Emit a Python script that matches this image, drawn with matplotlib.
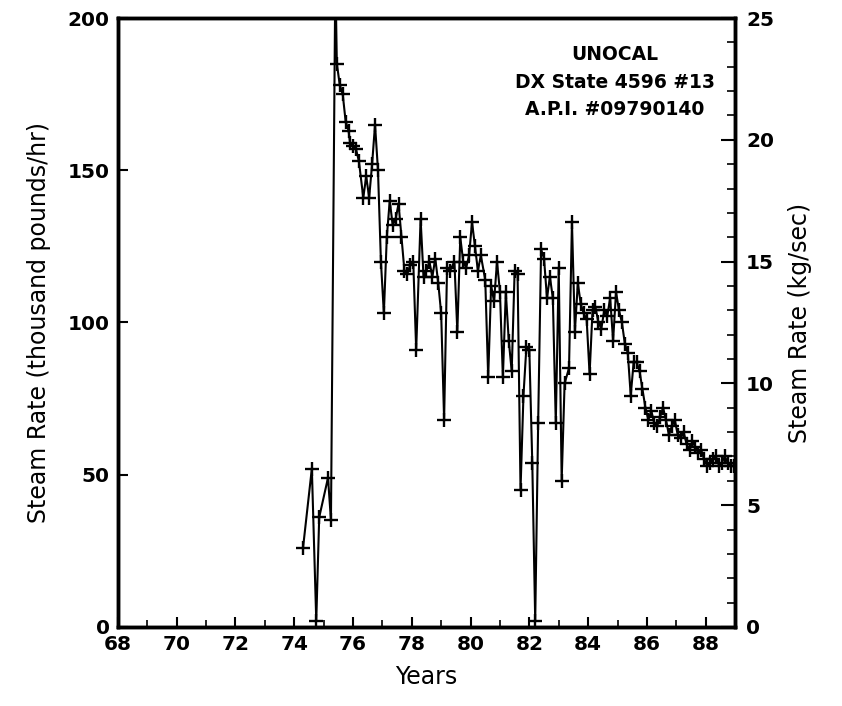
import matplotlib
matplotlib.use("Agg")
import matplotlib.pyplot as plt
from matplotlib.ticker import MultipleLocator

years = [74.3, 74.6, 74.75, 74.85, 75.15, 75.25, 75.4, 75.45, 75.55, 75.65, 75.75, 75.85, 75.9,
         76.0, 76.1, 76.2, 76.35, 76.45, 76.55, 76.65, 76.75, 76.85, 76.95,
         77.05, 77.15, 77.25, 77.35, 77.45, 77.55, 77.65, 77.75, 77.85, 77.95,
         78.05, 78.15, 78.3, 78.4, 78.5, 78.6, 78.7, 78.8, 78.9,
         79.0, 79.1, 79.2, 79.3, 79.45, 79.55, 79.65, 79.75, 79.85, 79.95,
         80.05, 80.15, 80.25, 80.35, 80.5, 80.6, 80.7, 80.8, 80.9,
         81.0, 81.1, 81.2, 81.3, 81.4, 81.5, 81.6, 81.7, 81.8, 81.9,
         82.0, 82.1, 82.2, 82.3, 82.4, 82.5, 82.6, 82.7, 82.8, 82.9,
         83.0, 83.1, 83.2, 83.35, 83.45, 83.55, 83.65, 83.75, 83.85, 83.95,
         84.05, 84.15, 84.25, 84.35, 84.45, 84.55, 84.65, 84.75, 84.85, 84.95,
         85.05, 85.15, 85.25, 85.35, 85.45, 85.55, 85.65, 85.75, 85.85, 85.95,
         86.05, 86.15, 86.25, 86.35, 86.45, 86.55, 86.65, 86.75, 86.85, 86.95,
         87.05, 87.15, 87.25, 87.35, 87.45, 87.55, 87.65, 87.75, 87.85, 87.95,
         88.05, 88.15, 88.25, 88.35, 88.45, 88.55, 88.65, 88.75, 88.85, 88.95]
steam = [26, 52, 2, 36, 49, 35, 215, 185, 178, 175, 166, 163, 159,
         158, 157, 153, 141, 148, 141, 152, 165, 150, 120,
         103, 128, 140, 132, 134, 139, 128, 117, 116, 119,
         120, 91, 134, 115, 117, 120, 115, 121, 113,
         103, 68, 118, 117, 120, 97, 128, 120, 118, 122,
         133, 125, 117, 122, 114, 82, 112, 107, 120,
         110, 82, 110, 94, 84, 117, 116, 45, 76, 92,
         91, 54, 2, 67, 124, 121, 108, 115, 108, 67,
         118, 48, 80, 85, 133, 97, 113, 106, 103, 101,
         83, 104, 105, 100, 98, 104, 102, 108, 94, 110,
         104, 100, 93, 90, 76, 87, 87, 84, 78, 72,
         68, 71, 67, 66, 69, 72, 68, 63, 66, 68,
         63, 62, 64, 60, 58, 61, 59, 57, 58, 55,
         53, 54, 55, 56, 53, 54, 56, 54, 53, 53]

xticks = [68, 70, 72, 74, 76, 78, 80, 82, 84, 86, 88]
yticks = [0, 50, 100, 150, 200]
kg_ticks = [0, 5, 10, 15, 20, 25]
title_lines = ["UNOCAL", "DX State 4596 #13", "A.P.I. #09790140"]

plt.rcParams['font.family'] = ['DejaVu Sans']

fig = plt.figure(figsize=(8.42, 7.06), dpi=100)
ax = fig.add_axes([0.140, 0.112, 0.733, 0.8625])
ax.plot(years, steam, color='black', lw=1.5, marker='+', ms=10, mew=1.7, clip_on=True)
ax.set_xlim(68, 89)
ax.set_ylim(0, 200)
ax.set_xticks(xticks)
ax.set_yticks(yticks)
ax.xaxis.set_minor_locator(MultipleLocator(1))
ax.tick_params(axis='both', which='major', direction='in', length=7, width=1.5, labelsize=14.5, pad=6)
ax.tick_params(axis='x', which='minor', direction='in', length=5, width=1.2)
for lab in ax.get_xticklabels() + ax.get_yticklabels():
    lab.set_fontweight('bold')
for s in ax.spines.values():
    s.set_linewidth(2.5)
ax.set_xlabel("Years", fontsize=17, labelpad=8)
ax.set_ylabel("Steam Rate (thousand pounds/hr)", fontsize=17, labelpad=12)

ax2 = ax.twinx()
ax2.set_ylim(0, 25)
ax2.set_yticks(kg_ticks)
ax2.yaxis.set_minor_locator(MultipleLocator(1))
ax2.tick_params(axis='y', which='major', direction='in', length=10, width=1.5, labelsize=14.5, pad=8)
ax2.tick_params(axis='y', which='minor', direction='in', length=6, width=1.2)
for lab in ax2.get_yticklabels():
    lab.set_fontweight('bold')
ax2.set_ylabel("Steam Rate (kg/sec)", fontsize=17, labelpad=10)
for s in ax2.spines.values():
    s.set_linewidth(2.5)

ax.text(0.805, 0.955, "\n".join(title_lines), transform=ax.transAxes, ha='center', va='top',
        fontsize=13.5, fontweight='bold', linespacing=1.55)

fig.savefig("out.png", dpi=100)
